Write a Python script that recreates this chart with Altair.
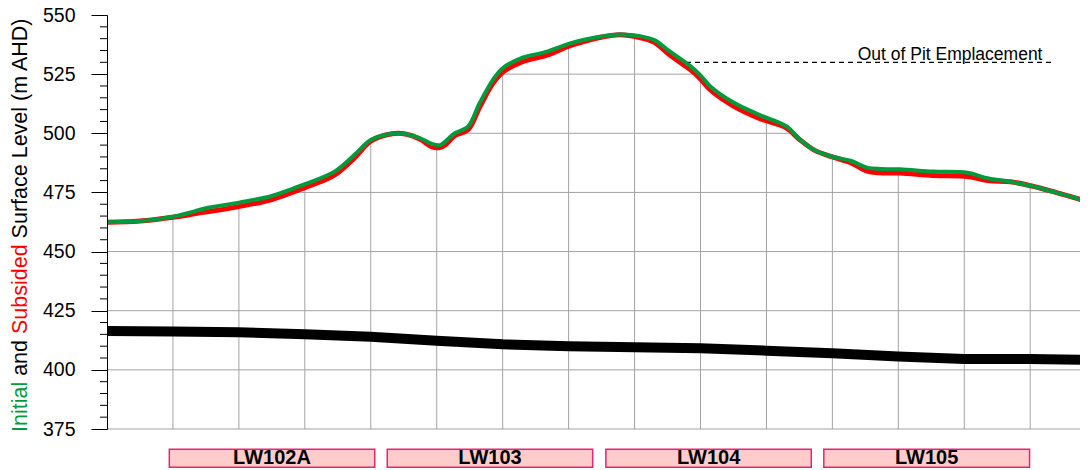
import altair as alt
import pandas as pd

# ---------------- data ----------------
dist = [0, 100, 200, 250, 280, 310, 400, 500, 600, 690, 750, 800, 865, 905, 950, 985,
        1010, 1025, 1055, 1095, 1130, 1170, 1200, 1255, 1335, 1405, 1495, 1555,
        1615, 1660, 1705, 1770, 1800, 1830, 1900, 1980, 2060, 2100, 2145, 2200,
        2255, 2305, 2345, 2405, 2505, 2610, 2670, 2740, 2805, 2880, 2975]
initial = [462.4, 462.9, 464.7, 466.4, 467.6, 468.6, 470.7, 473.5, 478.5, 483.8, 490.8,
           497.2, 499.8, 499.7, 497.9, 495.5, 495.0, 496.4, 500.0, 502.8, 512.7,
           522.5, 527.5, 531.7, 534.5, 538.0, 540.8, 541.8, 541.1, 539.4, 534.8,
           528.3, 524.5, 519.8, 513.0, 507.7, 503.0, 497.6, 492.9, 490.1, 488.4,
           485.5, 484.9, 484.8, 483.8, 483.3, 481.0, 479.5, 477.7, 474.9, 471.1]
subsided = [462.4, 462.9, 464.5, 465.6, 466.4, 466.9, 469.0, 472.0, 477.0, 482.3, 489.5,
            496.7, 499.8, 499.7, 497.5, 494.3, 494.0, 495.0, 499.0, 501.5, 511.0,
            521.0, 525.8, 530.0, 533.0, 537.0, 540.5, 541.6, 540.5, 538.5, 533.3,
            526.8, 523.0, 518.3, 511.5, 506.2, 502.3, 497.4, 492.9, 490.0, 487.6,
            484.0, 483.3, 483.2, 482.2, 481.7, 480.0, 479.5, 477.7, 474.9, 471.1]

seam_dist = [0, 200, 400, 600, 800, 1000, 1200, 1400, 1600, 1800, 2000, 2200,
             2400, 2600, 2800, 2975]
seam_level = [416.4, 416.2, 415.9, 415.0, 414.0, 412.3, 410.8, 410.0, 409.6,
              409.1, 408.1, 407.0, 405.6, 404.6, 404.6, 404.2]

panels = ["LW102A", "LW103", "LW104", "LW105"]
panel_start = [189, 850, 1513, 2174]
panel_end = [812, 1473, 2136, 2798]

emp_label = "Out of Pit Emplacement"
emp_start, emp_end, emp_level = 1756, 2870, 530
emp_label_x = 2557

grid_x = list(range(200, 2801, 200))
grid_y = [375, 400, 425, 450, 475, 500, 525]
major_ticks = [375, 400, 425, 450, 475, 500, 525, 550]
minor_ticks = [v for v in range(380, 550, 5) if v % 25 != 0]

X_MIN, X_MAX = 0, 2951
Y_MIN, Y_MAX = 375, 550

# ---------------- styling ----------------
FONT = "Liberation Sans"
GREEN = "#009A3C"
RED = "#FF0000"
GRID = "#A3A3A3"
INTERP = "catmull-rom"

xs = alt.Scale(domain=[X_MIN, X_MAX], nice=False, zero=False)
ys = alt.Scale(domain=[Y_MIN, Y_MAX], nice=False, zero=False)
yaxis = alt.Axis(values=major_ticks, tickSize=16, labelPadding=16,
                 labelFontSize=19.5, labelFont=FONT, labelColor="black",
                 domainColor="black", tickColor="black", grid=False,
                 title=None, zindex=1, labelOverlap=False)


def X(f):
    return alt.X(f, type="quantitative", scale=xs, axis=None)


def Y(f):
    return alt.Y(f, type="quantitative", scale=ys, axis=yaxis)


prof = pd.DataFrame({"dist": dist, "initial": initial, "subsided": subsided,
                     "top": [Y_MAX] * len(dist)})
seam_df = pd.DataFrame({"dist": seam_dist, "level": seam_level})
gx = pd.DataFrame({"x": grid_x, "y0": [Y_MIN] * len(grid_x), "y1": [Y_MAX] * len(grid_x)})
gy = pd.DataFrame({"y": grid_y, "x0": [X_MIN] * len(grid_y), "x1": [X_MAX] * len(grid_y)})
minor_df = pd.DataFrame({"v": minor_ticks})
emp_df = pd.DataFrame({"x0": [emp_start], "x1": [emp_end], "y": [emp_level],
                       "lx": [emp_label_x], "t": [emp_label]})
pan_df = pd.DataFrame({"name": panels, "s": panel_start, "e": panel_end,
                       "b0": [0] * 4, "b1": [1] * 4, "bm": [0.5] * 4})
pan_df["mid"] = (pan_df["s"] + pan_df["e"]) / 2

grid_v = alt.Chart(gx).mark_rule(color=GRID, strokeWidth=1).encode(
    x=X("x"), y=Y("y0"), y2="y1")
grid_h = alt.Chart(gy).mark_rule(color=GRID, strokeWidth=1).encode(
    x=X("x0"), x2="x1", y=Y("y"))
mask = alt.Chart(prof).mark_area(color="white", opacity=1, interpolate=INTERP).encode(
    x=X("dist"), y=Y("initial"), y2="top")
minor = alt.Chart(minor_df).mark_rule(color="black", strokeWidth=1).encode(
    x=alt.value(-7), x2=alt.value(0), y=Y("v"))
emp_line = alt.Chart(emp_df).mark_rule(color="black", strokeWidth=1.2, strokeDash=[5, 4]).encode(
    x=X("x0"), x2="x1", y=Y("y"))
emp_text = alt.Chart(emp_df).mark_text(font=FONT, fontSize=17.5, color="black",
                                       align="center", baseline="alphabetic", dy=-2).encode(
    x=X("lx"), y=Y("y"), text="t:N")
seam_line = alt.Chart(seam_df).mark_line(color="black", strokeWidth=10).encode(
    x=X("dist"), y=Y("level"))
sub_line = alt.Chart(prof).mark_line(color=RED, strokeWidth=5, interpolate=INTERP).encode(
    x=X("dist"), y=Y("subsided"))
ini_line = alt.Chart(prof).mark_line(color=GREEN, strokeWidth=4, interpolate=INTERP).encode(
    x=X("dist"), y=Y("initial"))

# multi-coloured y title, built from pieces (Arial metrics)
FS = 21.5
title_pieces = [("Initial", GREEN, 0.0), ("and", "black", 2.612),
                ("Subsided", RED, 4.558), ("Surface Level (m AHD)", "black", 9.005)]
title_layers = []
for txt, col, off in title_pieces:
    title_layers.append(
        alt.Chart(pd.DataFrame({"t": [txt]})).mark_text(
            font=FONT, fontSize=FS, color=col, angle=270, align="left",
            baseline="alphabetic").encode(
            x=alt.value(-80), y=alt.value(417 - off * FS), text="t:N"))

main = alt.layer(grid_v, grid_h, mask, minor, emp_line, emp_text,
                 seam_line, sub_line, ini_line, *title_layers)

bys = alt.Scale(domain=[0, 1], range=[452.3, 434.3])
box = alt.Chart(pan_df).mark_rect(fill="#FFCCCC", stroke="#E8246E", strokeWidth=1.5).encode(
    x=X("s"), x2="e", y=alt.Y("b0:Q", scale=bys, axis=None), y2="b1")
box_text = alt.Chart(pan_df).mark_text(font=FONT, fontSize=20, fontWeight="bold",
                                       color="black", baseline="middle").encode(
    x=X("mid"), y=alt.Y("bm:Q", scale=bys, axis=None), text="name:N")
boxes = alt.layer(box, box_text)

chart = alt.layer(main, boxes).resolve_scale(y="independent").properties(
    width=973, height=414,
    autosize=alt.AutoSizeParams(type="none"),
    padding={"left": 99, "top": 7, "right": 0, "bottom": 40},
    background="white",
).configure_view(stroke=None)

chart.save("out.html", embed_options={"renderer": "svg", "actions": False})
